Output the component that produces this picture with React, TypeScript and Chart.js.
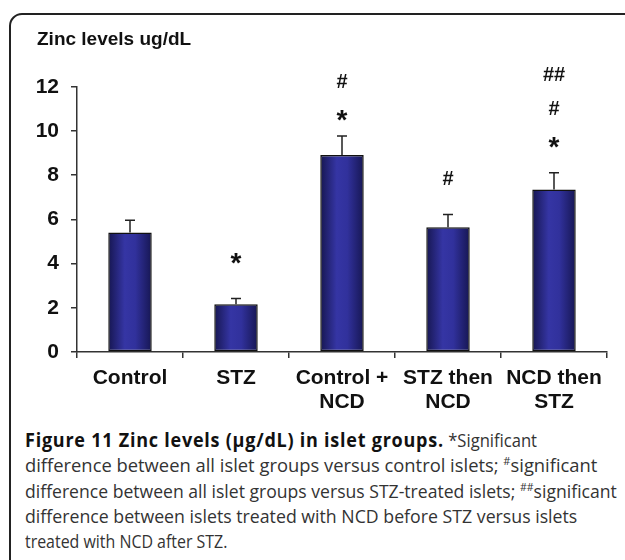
import React, { useEffect, useLayoutEffect, useRef } from "react";
import { Chart, registerables } from "chart.js";

Chart.register(...registerables);

const categories: string[][] = [
  ["Control"],
  ["STZ"],
  ["Control +", "NCD"],
  ["STZ then", "NCD"],
  ["NCD then", "STZ"],
];
const zincMeans: number[] = [5.41, 2.16, 8.91, 5.65, 7.35];
const zincErrors: number[] = [0.55, 0.26, 0.86, 0.57, 0.76];
// significance marks, listed from the lowest to the highest
const marks: string[][] = [[], ["*"], ["*", "#"], ["#"], ["*", "#", "##"]];
// value (in ug/dL units) at which the lowest mark of each group sits
const markAnchors: number[] = [0, 4.24, 10.72, 7.87, 9.5];
const yTicks: number[] = [0, 2, 4, 6, 8, 10, 12];

const FONT = "'Liberation Sans', Arial, Helvetica, sans-serif";

const overlayPlugin = {
  id: "errorsAndMarks",
  afterDatasetsDraw(chart: any) {
    const ctx = chart.ctx as CanvasRenderingContext2D;
    const ys = chart.scales.y;
    const meta = chart.getDatasetMeta(0);
    ctx.save();
    meta.data.forEach((bar: any, i: number) => {
      const x = bar.x;
      const yTop = ys.getPixelForValue(zincMeans[i]);
      const yErr = ys.getPixelForValue(zincMeans[i] + zincErrors[i]);
      ctx.strokeStyle = "#222";
      ctx.lineWidth = 1.5;
      ctx.beginPath();
      ctx.moveTo(x, yTop);
      ctx.lineTo(x, yErr);
      ctx.moveTo(x - 5, yErr);
      ctx.lineTo(x + 5, yErr);
      ctx.stroke();

      const list = marks[i];
      if (!list.length) return;
      const base = ys.getPixelForValue(markAnchors[i]);
      list.forEach((m, k) => {
        const cy = base - k * 34;
        const size = m === "*" ? 28 : 20;
        ctx.font = `bold ${size}px ${FONT}`;
        ctx.textAlign = "center";
        ctx.textBaseline = "alphabetic";
        ctx.fillStyle = "#111";
        const mt = ctx.measureText(m);
        const asc = mt.actualBoundingBoxAscent;
        const desc = mt.actualBoundingBoxDescent;
        const baseline = cy + (asc - desc) / 2;
        ctx.fillText(m, x, baseline);
      });
    });
    ctx.restore();
  },
};

function barGradient(context: any) {
  const chart = context.chart;
  const xs = chart.scales && chart.scales.x;
  if (!xs || context.dataIndex == null || !chart.chartArea) return "#2e2e8c";
  const cx = xs.getPixelForValue(context.dataIndex);
  const half = 22;
  const g = chart.ctx.createLinearGradient(cx - half, 0, cx + half, 0);
  g.addColorStop(0, "#161650");
  g.addColorStop(0.38, "#3535a4");
  g.addColorStop(0.62, "#31319c");
  g.addColorStop(1, "#161652");
  return g;
}

function ZincChart() {
  const ref = useRef<HTMLCanvasElement | null>(null);
  useEffect(() => {
    if (!ref.current) return;
    const chart = new Chart(ref.current, {
      type: "bar",
      data: {
        labels: categories,
        datasets: [
          {
            data: zincMeans,
            backgroundColor: barGradient,
            borderColor: "#111",
            borderWidth: 1.5,
            borderSkipped: false,
            categoryPercentage: 1,
            barPercentage: 0.41,
          },
        ],
      },
      options: {
        responsive: false,
        devicePixelRatio: 1,
        animation: false,
        layout: { padding: { left: 37, right: 18, top: 0, bottom: 6 } },
        plugins: {
          legend: { display: false },
          tooltip: { enabled: false },
          title: {
            display: true,
            text: "Zinc levels ug/dL",
            align: "start",
            color: "#111",
            font: { family: FONT, size: 19, weight: "bold" },
            padding: { top: 28, bottom: 36 },
          },
        },
        scales: {
          x: {
            offset: true,
            afterFit: (scale: any) => {
              scale.height = 62;
            },
            grid: {
              offset: true,
              drawOnChartArea: false,
              drawTicks: true,
              tickLength: 6,
              color: "#333",
              lineWidth: 1.5,
            },
            border: { color: "#333", width: 1.5 },
            ticks: {
              color: "#111",
              font: { family: FONT, size: 21, weight: "bold", lineHeight: 1.15 },
              padding: 8,
              maxRotation: 0,
              autoSkip: false,
            },
          },
          y: {
            min: 0,
            max: 12,
            afterFit: (scale: any) => {
              scale.width = 40;
            },
            afterBuildTicks: (scale: any) => {
              scale.ticks = yTicks.map((v) => ({ value: v }));
            },
            grid: {
              drawOnChartArea: false,
              drawTicks: true,
              tickLength: 6,
              color: "#333",
              lineWidth: 1.5,
            },
            border: { color: "#333", width: 1.5 },
            ticks: {
              color: "#111",
              font: { family: FONT, size: 21, weight: "bold" },
              padding: 12,
            },
          },
        },
      },
      plugins: [overlayPlugin],
    });
    return () => chart.destroy();
  }, []);
  return (
    <canvas
      ref={ref}
      width={625}
      height={420}
      style={{ position: "absolute", left: 0, top: 0, width: 625, height: 420 }}
    />
  );
}

const supStyle: React.CSSProperties = { fontSize: "0.6em", lineHeight: 0 };
// right edge (px) each caption line reaches in the figure
const CAPTION_LEFT = 25;
const captionLineEnds = [537, 597, 617, 577, 227];

function Caption() {
  const lineRefs = useRef<(HTMLDivElement | null)[]>([]);
  useLayoutEffect(() => {
    const fit = () => {
      lineRefs.current.forEach((el, i) => {
        if (!el) return;
        el.style.transform = "none";
        const natural = el.scrollWidth;
        const target = captionLineEnds[i] - CAPTION_LEFT;
        if (natural > 0) el.style.transform = `scaleX(${target / natural})`;
      });
    };
    fit();
    if ((document as any).fonts && (document as any).fonts.ready) {
      (document as any).fonts.ready.then(fit);
    }
  }, []);
  const lineStyle: React.CSSProperties = {
    display: "inline-block",
    transformOrigin: "0 0",
    whiteSpace: "nowrap",
  };
  const lines: React.ReactNode[] = [
    <>
      <b style={{ color: "#111", fontSize: 19, letterSpacing: 0.8 }}>
        Figure 11 Zinc levels (μg/dL) in islet groups.
      </b>{" "}
      *Significant
    </>,
    <>
      difference between all islet groups versus control islets; <sup style={supStyle}>#</sup>significant
    </>,
    <>
      difference between all islet groups versus STZ-treated islets; <sup style={supStyle}>##</sup>significant
    </>,
    <>difference between islets treated with NCD before STZ versus islets</>,
    <>treated with NCD after STZ.</>,
  ];
  return (
    <div
      style={{
        position: "absolute",
        left: CAPTION_LEFT,
        top: 428,
        fontFamily: "'Open Sans', Lato, sans-serif",
        fontSize: 17.5,
        lineHeight: "25.25px",
        color: "#333",
      }}
    >
      {lines.map((content, i) => (
        <div key={i} style={{ height: 25.25, whiteSpace: "nowrap" }}>
          <div
            ref={(el) => {
              lineRefs.current[i] = el;
            }}
            style={lineStyle}
          >
            {content}
          </div>
        </div>
      ))}
    </div>
  );
}

export default function App() {
  return (
    <div
      style={{
        position: "absolute",
        left: 0,
        top: 0,
        width: 625,
        height: 560,
        overflow: "hidden",
        background: "#fff",
      }}
    >
      <div
        style={{
          position: "absolute",
          left: 9,
          top: 13,
          width: 640,
          height: 620,
          border: "2px solid #222",
          borderRadius: 13,
          boxSizing: "border-box",
        }}
      />
      <ZincChart />
      <Caption />
    </div>
  );
}
